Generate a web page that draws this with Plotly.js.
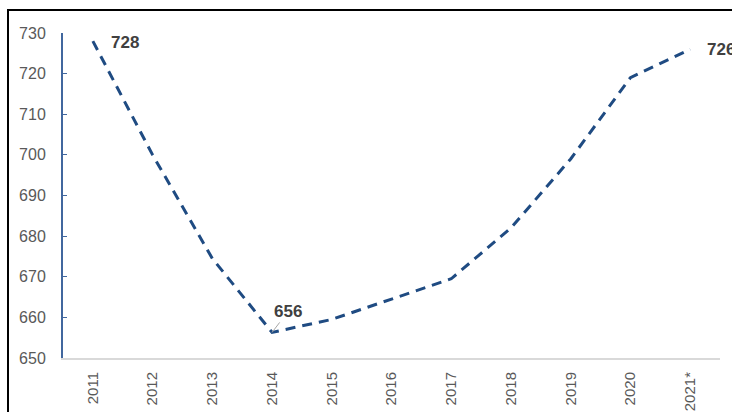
<!DOCTYPE html>
<html>
<head>
<meta charset="utf-8">
<script src="https://cdn.plot.ly/plotly-3.0.1.min.js"></script>
<style>
  html, body { margin: 0; padding: 0; background: #fff; overflow: hidden; }
  #wrap { position: relative; width: 732px; height: 412px; }
  #chart { position: absolute; left: 0; top: 0; width: 732px; height: 412px; }
  #frame { position: absolute; left: 7px; top: 9px; width: 900px; height: 600px;
           border: 2px solid #000; pointer-events: none; box-sizing: border-box; }
</style>
</head>
<body>
<div id="wrap">
  <div id="chart"></div>
  <div id="frame"></div>
</div>
<script>
const years = ["2011", "2012", "2013", "2014", "2015", "2016", "2017", "2018", "2019", "2020", "2021*"];
const values = [728, 700, 674.5, 656.3, 659.5, 664.5, 669.5, 682, 699, 719, 726];
const labelYears = ["2011", "2014", "2021*"];
const labelTexts = ["728", "656", "726"];
const yTicks = [650, 660, 670, 680, 690, 700, 710, 720, 730];

const trace = {
  x: years,
  y: values,
  type: "scatter",
  mode: "lines",
  line: { color: "#1f4b82", width: 3, dash: "10px,7px" },
  hoverinfo: "skip"
};

const labelFont = { family: "Liberation Sans, Arial, sans-serif", size: 17, color: "#404040" };
function idx(y) { return years.indexOf(y); }
const annotations = [
  { x: idx(labelYears[0]), y: values[idx(labelYears[0])], text: "<b>" + labelTexts[0] + "</b>",
    showarrow: false, xshift: 32, yshift: -1, font: labelFont },
  { x: idx(labelYears[1]), y: values[idx(labelYears[1])], text: "<b>" + labelTexts[1] + "</b>",
    showarrow: true, arrowhead: 0, arrowwidth: 1, arrowcolor: "#a6a6a6", ax: 16, ay: -21, standoff: 0, font: labelFont },
  { x: idx(labelYears[2]), y: values[idx(labelYears[2])], text: "<b>" + labelTexts[2] + "</b>",
    showarrow: false, xshift: 31, yshift: 0, font: labelFont }
];

const layout = {
  width: 732, height: 412,
  margin: { l: 63, r: 12, t: 33, b: 54 },
  paper_bgcolor: "#fff", plot_bgcolor: "#fff",
  showlegend: false,
  font: { family: "Liberation Sans, Arial, sans-serif", color: "#595959" },
  xaxis: {
    type: "category",
    range: [-0.5, 10.5],
    showgrid: false, zeroline: false,
    showline: true, linecolor: "#d9d9d9", linewidth: 2,
    ticks: "outside", ticklen: 6, tickcolor: "rgba(0,0,0,0)",
    tickangle: -90,
    tickfont: { size: 15, color: "#595959" }
  },
  yaxis: {
    range: [650, 730],
    tickvals: yTicks,
    showgrid: false, zeroline: false,
    showline: true, linecolor: "#41679e", linewidth: 2,
    ticks: "inside", ticklen: 4, tickcolor: "#41679e", tickwidth: 1,
    tickfont: { size: 16, color: "#595959" },
    ticklabelstandoff: 12
  },
  annotations: annotations
};

Plotly.newPlot("chart", [trace], layout, { staticPlot: true, displayModeBar: false });
</script>
</body>
</html>
